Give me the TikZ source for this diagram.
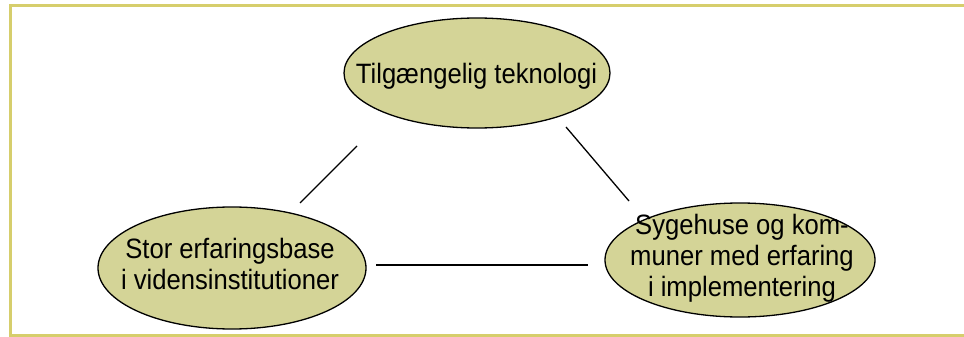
\documentclass[tikz,border=0pt]{standalone}
\usepackage{fontspec}
\setmainfont[FakeStretch=0.915]{Liberation Sans}
\usetikzlibrary{shapes.geometric}
\definecolor{blobfill}{RGB}{212,212,151}
\definecolor{framecol}{RGB}{214,206,108}
\tikzset{
  blob/.style={ellipse, draw=black, line width=1.3pt, fill=blobfill, inner sep=0pt},
  txt/.style={align=center, inner sep=0pt, font=\fontsize{28}{31}\selectfont},
  link/.style={draw=black, line width=1.3pt},
  frameline/.style={draw=framecol, line width=3pt}
}
\begin{document}
\begin{tikzpicture}[x=1pt,y=-1pt]
\useasboundingbox (0,0) rectangle (964,337);
\draw[frameline] (964,5.5) -- (10.5,5.5) -- (10.5,335.5) -- (964,335.5);
% ellipses
\node[blob, minimum width=266pt, minimum height=110pt] (top) at (477,73) {};
\node[blob, minimum width=268pt, minimum height=122pt] (left) at (232,268) {};
\node[blob, minimum width=270pt, minimum height=114pt] (right) at (740,260) {};
% texts
\node[txt] (toptxt) at (476.5,76) {Tilgængelig teknologi};
\node[txt] (lefttxt) at (230,264) {Stor erfaringsbase\\i vidensinstitutioner};
\node[txt] (righttxt) at (742,258) {Sygehuse og kom-\\muner med erfaring\\i implementering};
% connector end points
\coordinate (a1) at (300,203);
\coordinate (a2) at (357,146);
\coordinate (b1) at (566,127);
\coordinate (b2) at (629,201);
\coordinate (c1) at (376,265);
\coordinate (c2) at (588,265);
\draw[link] (a1) -- (a2);
\draw[link] (b1) -- (b2);
\draw[link] (c1) -- (c2);
\end{tikzpicture}
\end{document}
